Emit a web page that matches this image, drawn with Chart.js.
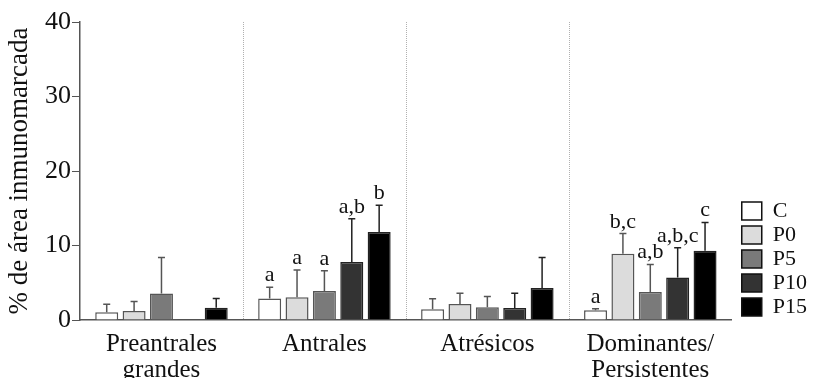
<!DOCTYPE html>
<html>
<head>
<meta charset="utf-8">
<script src="https://cdn.jsdelivr.net/npm/chart.js@4"></script>
<style>
  html, body { margin: 0; padding: 0; background: #fff; }
  #wrap { width: 818px; height: 378px; }
</style>
</head>
<body>
<div id="wrap"><canvas id="chart"></canvas></div>
<script>
// ---------- data ----------
const categories = [['Preantrales', 'grandes'], 'Antrales', 'Atrésicos', ['Dominantes/', 'Persistentes']];
const seriesNames = ['C', 'P0', 'P5', 'P10', 'P15'];
const valC   = [1.05, 2.9, 1.45, 1.3];
const valP0  = [1.2, 3.05, 2.15, 8.9];
const valP5  = [3.55, 3.9, 1.7, 3.75];
const valP10 = [0.1, 7.8, 1.6, 5.7];
const valP15 = [1.65, 11.8, 4.3, 9.3];
// upper end of the error bar (mean + SEM)
const errC   = [2.1, 4.4, 2.85, 1.5];
const errP0  = [2.5, 6.7, 3.6, 11.6];
const errP5  = [8.4, 6.6, 3.15, 7.45];
const errP10 = [0.1, 13.6, 3.6, 9.7];
const errP15 = [2.9, 15.4, 8.4, 13.1];
// significance letters
const letC   = ['', 'a', '', 'a'];
const letP0  = ['', 'a', '', 'b,c'];
const letP5  = ['', 'a', '', 'a,b'];
const letP10 = ['', 'a,b', '', 'a,b,c'];
const letP15 = ['', 'b', '', 'c'];
const yTicks = [0, 10, 20, 30, 40];

const fills = ['#ffffff', '#dcdcdc', '#7a7a7a', '#333333', '#000000'];
const serif = '"Liberation Serif", "Times New Roman", serif';

const values = [valC, valP0, valP5, valP10, valP15];
const errs = [errC, errP0, errP5, errP10, errP15];
const letters = [letC, letP0, letP5, letP10, letP15];

//==========plugins===========
const separators = {
    id: 'separators',
    beforeDatasetsDraw(chart) {
        const x = chart.scales.x, area = chart.chartArea, ctx = chart.ctx;
        ctx.save();
        ctx.strokeStyle = '#b0b0b0';
        ctx.lineWidth = 1;
        ctx.setLineDash([1, 1]);
        for (let i = 0; i < categories.length - 1; i++) {
            const px = Math.round((x.getPixelForValue(i) + x.getPixelForValue(i + 1)) / 2) + 0.5;
            ctx.beginPath();
            ctx.moveTo(px, area.top);
            ctx.lineTo(px, area.bottom);
            ctx.stroke();
        }
        ctx.restore();
    }
};

const errorBars = {
    id: 'errorBars',
    afterDatasetsDraw(chart) {
        const ctx = chart.ctx, y = chart.scales.y;
        ctx.save();
        chart.data.datasets.forEach(function (ds, di) {
            const meta = chart.getDatasetMeta(di);
            meta.data.forEach(function (bar, i) {
                const top = y.getPixelForValue(values[di][i]);
                const eTop = y.getPixelForValue(errs[di][i]);
                if (errs[di][i] > values[di][i]) {
                    ctx.strokeStyle = di < 3 ? '#555' : '#222';
                    ctx.lineWidth = 1.5;
                    ctx.beginPath();
                    ctx.moveTo(bar.x, top);
                    ctx.lineTo(bar.x, eTop);
                    ctx.moveTo(bar.x - 3.5, eTop);
                    ctx.lineTo(bar.x + 3.5, eTop);
                    ctx.stroke();
                }
                const t = letters[di][i];
                if (t) {
                    ctx.fillStyle = '#111';
                    ctx.font = '22px ' + serif;
                    ctx.textAlign = 'center';
                    ctx.textBaseline = 'alphabetic';
                    ctx.fillText(t, bar.x, eTop - 6);
                }
            });
        });
        ctx.restore();
    }
};

// nudge the legend a bit to the right of the plot
const legendShift = {
    id: 'legendShift',
    beforeDraw(chart) {
        chart.legend.left += 8;
        chart.legend.right += 8;
    }
};

const ctx = document.getElementById('chart');
new Chart(ctx, {
    type: 'bar',
    data: {
        labels: categories,
        datasets: seriesNames.map(function (name, i) {
            return {
                label: name,
                data: values[i],
                backgroundColor: fills[i],
                borderColor: i < 3 ? '#555' : '#222',
                borderWidth: 1.5,
                borderSkipped: 'bottom',
                categoryPercentage: 0.84,
                barPercentage: 0.84
            };
        })
    },
    options: {
        responsive: true,
        maintainAspectRatio: false,
        animation: false,
        layout: { padding: { top: 22, right: 9, left: 0, bottom: 0 } },
        plugins: {
            tooltip: { enabled: false },
            legend: {
                position: 'right',
                align: 'end',
                fullSize: false,
                labels: {
                    color: '#111',
                    font: { family: serif, size: 22 },
                    boxWidth: 20,
                    boxHeight: 18,
                    padding: 2,
                    generateLabels: function (chart) {
                        return seriesNames.map(function (name, i) {
                            return {
                                text: name,
                                fillStyle: fills[i],
                                strokeStyle: '#111',
                                lineWidth: 1.5,
                                fontColor: '#111',
                                datasetIndex: i
                            };
                        });
                    }
                }
            }
        },
        scales: {
            x: {
                grid: { display: false },
                border: { color: '#555', width: 1.5 },
                ticks: {
                    color: '#111',
                    font: { family: serif, size: 25, lineHeight: 1.04 },
                    padding: 3,
                    maxRotation: 0,
                    autoSkip: false
                },
                afterFit: function (scale) { scale.height = 58; }
            },
            y: {
                min: 0,
                max: 40,
                afterBuildTicks: function (scale) {
                    scale.ticks = yTicks.map(function (v) { return { value: v }; });
                },
                grid: { drawOnChartArea: false, drawTicks: true, tickLength: 8, color: '#555' },
                border: { color: '#555', width: 1.5 },
                ticks: {
                    color: '#111',
                    font: { family: serif, size: 26 },
                    padding: 1
                },
                title: {
                    display: true,
                    text: '% de área inmunomarcada',
                    color: '#111',
                    font: { family: serif, size: 27 },
                    padding: { top: 4, bottom: 2 }
                },
                afterFit: function (scale) { scale.width = 80; }
            }
        }
    },
    plugins: [separators, errorBars, legendShift]
});
</script>
</body>
</html>
